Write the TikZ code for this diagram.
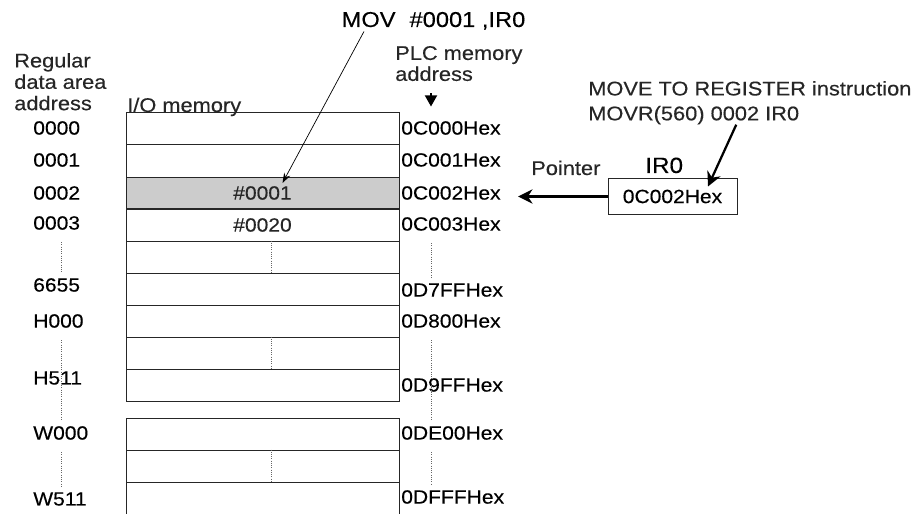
\documentclass[tikz,border=0pt]{standalone}
\usepackage{fontspec}
\setmainfont{Liberation Sans}[FakeStretch=1.1, FakeBold=0.3]
\usepackage{xcolor}
\usepackage{tikz}
\usetikzlibrary{arrows.meta}
\definecolor{inkgray}{gray}{0.15}
\definecolor{cellgray}{gray}{0.8}

\begin{document}
\begin{tikzpicture}[
    cell/.style={draw=black!85, line width=0.7pt, minimum width=6.825cm, minimum height=0.8cm, inner sep=0pt, font=\fontsize{13.6}{15}\selectfont},
    addr/.style={anchor=west, inner sep=0pt, font=\fontsize{13.6}{15}\selectfont},
    note/.style={inner sep=0pt, text=inkgray, align=left, font=\fontsize{14.1}{15.2}\selectfont},
    sepline/.style={black!60, densely dotted, line width=0.6pt},
    dotline/.style={black!60, densely dotted, line width=0.6pt, shorten <=0.3cm, shorten >=0.15cm},
    ptr/.style={line width=1.6pt, -{Stealth[length=0.36cm,width=0.36cm]}},
    thinptr/.style={line width=0.5pt, -{Stealth[length=0.25cm,width=0.17cm]}},
    downptr/.style={line width=1.4pt, -{Triangle[length=0.28cm,width=0.3cm]}, shorten <=0.3cm, shorten >=0.36cm}
]
    \useasboundingbox (0,0) rectangle (23.05,12.85);
    % I/O memory words
    \node[cell] (r0) at (6.5625,9.625) {};
    \node[cell] (r1) at (6.5625,8.825) {};
    \node[cell, fill=cellgray, text=inkgray] (r2) at (6.5625,8.025) {\#0001};
    \node[cell, text=inkgray] (r3) at (6.5625,7.225) {\#0020};
    \node[cell] (r4) at (6.5625,6.425) {};
    \node[cell] (r5) at (6.5625,5.625) {};
    \node[cell] (r6) at (6.5625,4.825) {};
    \node[cell] (r7) at (6.5625,4.025) {};
    \node[cell] (r8) at (6.5625,3.225) {};
    \node[cell] (r9) at (6.5625,2.0) {};
    \node[cell] (r10) at (6.5625,1.2) {};
    \node[cell, minimum height=1cm] (r11) at (6.5625,0.3) {};
    % skipped words
    \draw[sepline] ([xshift=0.2125cm]r4.north) -- ([xshift=0.2125cm]r4.south);
    \draw[sepline] ([xshift=0.2125cm]r7.north) -- ([xshift=0.2125cm]r7.south);
    \draw[sepline] ([xshift=0.2125cm]r10.north) -- ([xshift=0.2125cm]r10.south);

    % regular data area addresses
    \node[addr] (a0) at (0.825,9.65) {0000};
    \node[addr] (a1) at (0.825,8.85) {0001};
    \node[addr] (a2) at (0.825,8.025) {0002};
    \node[addr] (a3) at (0.825,7.275) {0003};
    \node[addr] (a4) at (0.825,5.725) {6655};
    \node[addr] (a5) at (0.825,4.825) {H000};
    \node[addr] (a6) at (0.825,3.4) {H511};
    \node[addr] (a7) at (0.825,2.025) {W000};
    \node[addr] (a8) at (0.825,0.375) {W511};
    % PLC memory addresses
    \node[addr] (h0) at (10.025,9.65) {0C000Hex};
    \node[addr] (h1) at (10.025,8.85) {0C001Hex};
    \node[addr] (h2) at (10.025,8.025) {0C002Hex};
    \node[addr] (h3) at (10.025,7.25) {0C003Hex};
    \node[addr] (h4) at (10.025,5.6) {0D7FFHex};
    \node[addr] (h5) at (10.025,4.825) {0D800Hex};
    \node[addr] (h6) at (10.025,3.225) {0D9FFHex};
    \node[addr] (h7) at (10.025,2.025) {0DE00Hex};
    \node[addr] (h8) at (10.025,0.425) {0DFFFHex};
    \coordinate (ldot) at (1.525,0);
    \coordinate (rdot) at (10.775,0);
    \draw[dotline] (a3.south -| ldot) -- (a4.north -| ldot);
    \draw[dotline] (a5.south -| ldot) -- (a7.north -| ldot);
    \draw[dotline] (a7.south -| ldot) -- (a8.north -| ldot);
    \draw[dotline] (h3.south -| rdot) -- (h4.north -| rdot);
    \draw[dotline] (h5.south -| rdot) -- (h7.north -| rdot);
    \draw[dotline] (h7.south -| rdot) -- (h8.north -| rdot);

    % column headings
    \node[note, anchor=north west] (regular) at (0.35,11.53) {Regular\\data area\\address};
    \node[note, anchor=base west] (iomem) at (3.175,10.05) {I/O memory};
    \node[note, anchor=north west, font=\fontsize{14.1}{14.9}\selectfont] (plc) at (9.875,11.705) {PLC memory\\address};
    \draw[downptr] (plc.south -| rdot) -- (h0.north -| rdot);

    % MOV writes into the word IR0 points at
    \node[anchor=base west, inner sep=1pt, font=\fontsize{15.3}{17}\selectfont] (mov) at (8.5,12.175) {MOV\hspace{0.35cm}\#0001 ,IR0};
    \draw[thinptr] ([xshift=0.6cm]mov.south west) -- ([xshift=0.5cm,yshift=0.25cm]r2.center);

    % index register
    \node[note, anchor=north west, font=\fontsize{14.1}{17.7}\selectfont] (instr) at (14.7,10.83) {MOVE TO REGISTER instruction\\MOVR(560) 0002 IR0};
    \node[draw=black!85, line width=0.7pt, minimum width=3.225cm, minimum height=0.875cm, inner sep=0pt, font=\fontsize{13.6}{15}\selectfont] (ir0) at (16.8125,7.9375) {0C002Hex};
    \node[anchor=base west, inner sep=0pt, font=\fontsize{15.7}{17}\selectfont] (ir0name) at (16.125,8.525) {IR0};
    \node[note, anchor=base west] (pointer) at (13.275,8.475) {Pointer};
    \draw[ptr, shorten >=0.43cm] (ir0.west) -- (ir0.west -| h2.east);
    \draw[ptr] ([xshift=-0.34cm]instr.south) -- ([xshift=0.8875cm,yshift=-0.2cm]ir0.north);
\end{tikzpicture}
\end{document}
